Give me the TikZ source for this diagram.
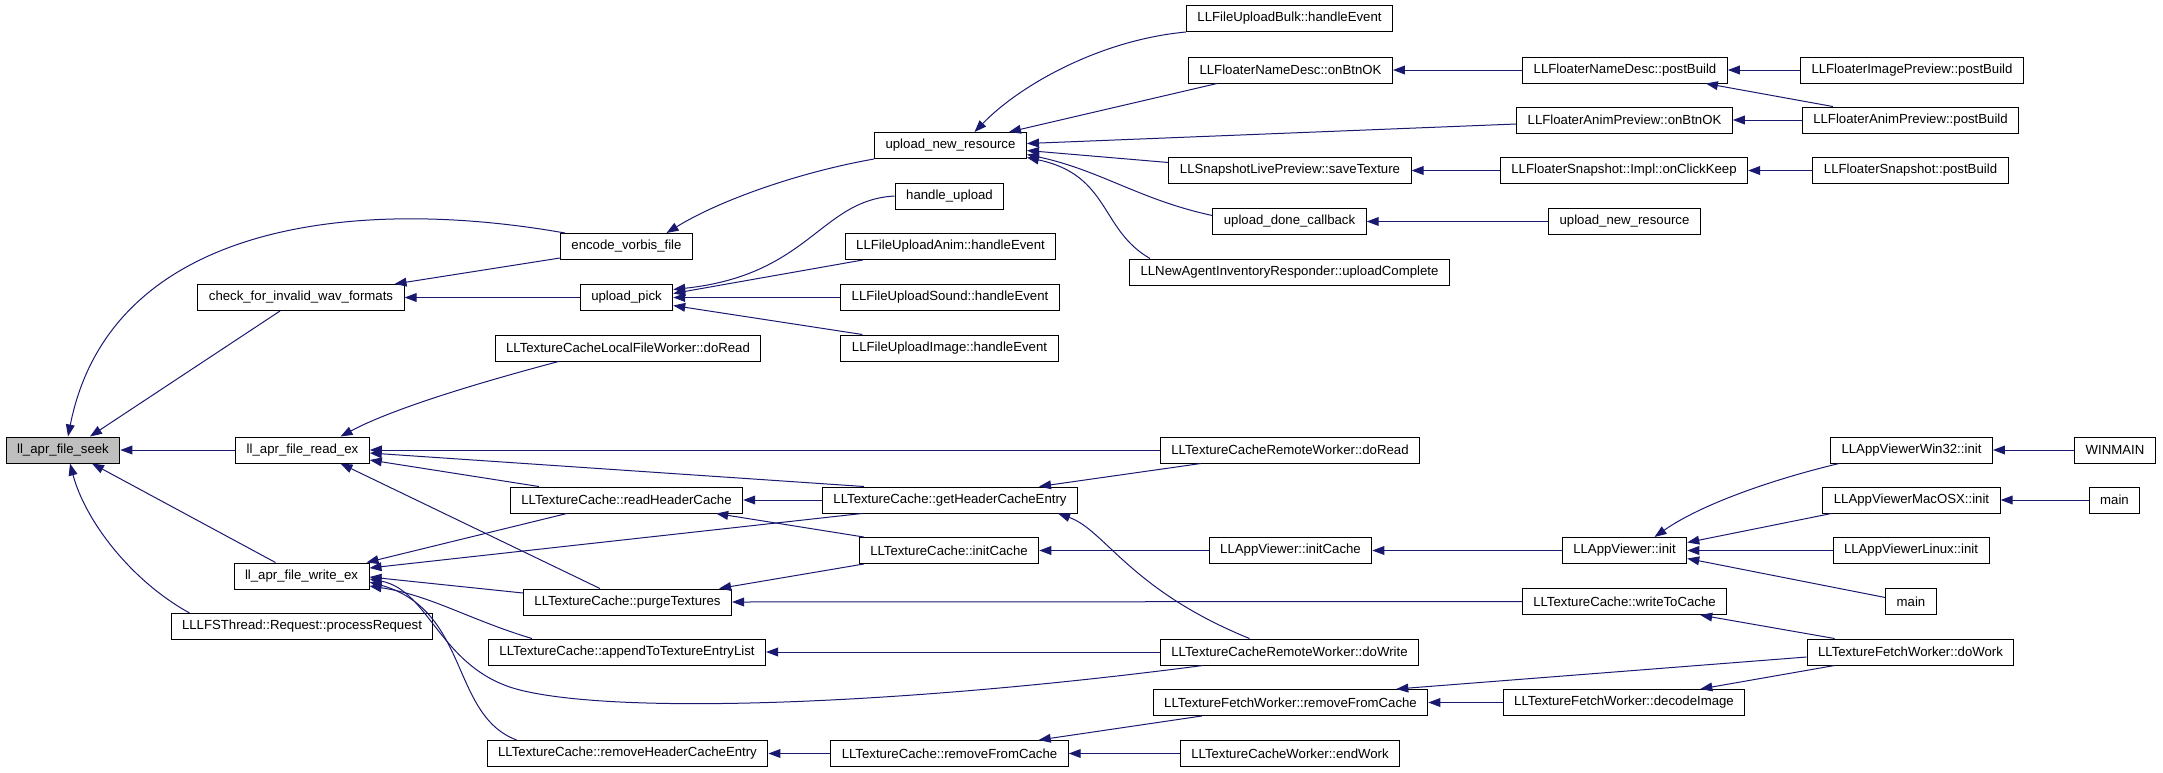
\documentclass[tikz,border=0pt]{standalone}
\usepackage{fontspec}
\setmainfont{Liberation Sans}
\usetikzlibrary{arrows.meta}
\definecolor{azulseta}{RGB}{25,25,112}

\begin{document}
\begin{tikzpicture}[x=0.5pt, y=-0.5pt,
    caixa/.style={draw, line width=0.5pt, inner xsep=5.5pt, inner ysep=0pt,
        minimum height=13pt, font=\fontsize{6.6}{8}\selectfont},
    chama/.style={draw=azulseta, line width=0.5pt,
        -{Triangle[length=6pt, width=4.4pt]}}]

    \useasboundingbox (0,0) rectangle (2163,772);

    % Coluna 1 e 2
    \node (seek) at (63,450) [caixa, fill=gray!50] {ll\_apr\_file\_seek};
    \node (check) at (301,297.5) [caixa] {check\_for\_invalid\_wav\_formats};
    \node (read) at (302.5,450) [caixa] {ll\_apr\_file\_read\_ex};
    \node (write) at (301.5,576) [caixa] {ll\_apr\_file\_write\_ex};
    \node (process) at (302,626.5) [caixa] {LLLFSThread::Request::processRequest};

    % Coluna 3
    \node (encode) at (626.5,246.5) [caixa] {encode\_vorbis\_file};
    \node (upick) at (626.5,297.5) [caixa] {upload\_pick};
    \node (localread) at (628,348) [caixa] {LLTextureCacheLocalFileWorker::doRead};
    \node (readhc) at (626.5,500) [caixa] {LLTextureCache::readHeaderCache};
    \node (purge) at (627.5,602) [caixa] {LLTextureCache::purgeTextures};
    \node (append) at (627,652) [caixa] {LLTextureCache::appendToTextureEntryList};
    \node (removehce) at (627.5,753.5) [caixa] {LLTextureCache::removeHeaderCacheEntry};

    % Coluna 4
    \node (unr) at (950.5,145.5) [caixa] {upload\_new\_resource};
    \node (handle) at (949.5,196) [caixa] {handle\_upload};
    \node (anim) at (950.5,246.5) [caixa] {LLFileUploadAnim::handleEvent};
    \node (sound) at (950,297.5) [caixa] {LLFileUploadSound::handleEvent};
    \node (image) at (949.5,348) [caixa] {LLFileUploadImage::handleEvent};
    \node (gethce) at (950,500) [caixa] {LLTextureCache::getHeaderCacheEntry};
    \node (initcache) at (949,550.5) [caixa] {LLTextureCache::initCache};
    \node (tcremove) at (949.5,753.5) [caixa] {LLTextureCache::removeFromCache};

    % Coluna 5
    \node (bulk) at (1289.5,18.5) [caixa] {LLFileUploadBulk::handleEvent};
    \node (namedescok) at (1290.5,70) [caixa] {LLFloaterNameDesc::onBtnOK};
    \node (savetex) at (1290,170.5) [caixa] {LLSnapshotLivePreview::saveTexture};
    \node (donecb) at (1289.5,221.5) [caixa] {upload\_done\_callback};
    \node (newagent) at (1289.5,272) [caixa] {LLNewAgentInventoryResponder::uploadComplete};
    \node (remoteread) at (1290,450) [caixa] {LLTextureCacheRemoteWorker::doRead};
    \node (appinitcache) at (1290.5,550.5) [caixa] {LLAppViewer::initCache};
    \node (remotewrite) at (1289.5,652) [caixa] {LLTextureCacheRemoteWorker::doWrite};
    \node (fetchremove) at (1290.5,702.5) [caixa] {LLTextureFetchWorker::removeFromCache};
    \node (endwork) at (1290,753.5) [caixa] {LLTextureCacheWorker::endWork};

    % Coluna 6
    \node (namedescpb) at (1625,70) [caixa] {LLFloaterNameDesc::postBuild};
    \node (animok) at (1624.5,120) [caixa] {LLFloaterAnimPreview::onBtnOK};
    \node (clickkeep) at (1624,170.5) [caixa] {LLFloaterSnapshot::Impl::onClickKeep};
    \node (unr2) at (1624.5,221.5) [caixa] {upload\_new\_resource};
    \node (appinit) at (1624.5,550.5) [caixa] {LLAppViewer::init};
    \node (writecache) at (1624.5,601.5) [caixa] {LLTextureCache::writeToCache};
    \node (decode) at (1624,702.5) [caixa] {LLTextureFetchWorker::decodeImage};

    % Colunas 7 e 8
    \node (imagepb) at (1912,70) [caixa] {LLFloaterImagePreview::postBuild};
    \node (animpb) at (1910.5,120) [caixa] {LLFloaterAnimPreview::postBuild};
    \node (snappb) at (1910.5,170.5) [caixa] {LLFloaterSnapshot::postBuild};
    \node (win32) at (1911.5,450) [caixa] {LLAppViewerWin32::init};
    \node (mac) at (1911.5,500) [caixa] {LLAppViewerMacOSX::init};
    \node (linux) at (1911,550.5) [caixa] {LLAppViewerLinux::init};
    \node (main2) at (1911,601.5) [caixa] {main};
    \node (dowork) at (1910.5,652) [caixa] {LLTextureFetchWorker::doWork};
    \node (winmain) at (2115,450) [caixa] {WINMAIN};
    \node (main1) at (2114.5,500) [caixa] {main};

    % Chamadas para ll_apr_file_seek
    \draw[chama] ([xshift=2.5pt]encode.north west) .. controls (350,195) and (110,225) .. ([xshift=2.5pt]seek.north);
    \draw[chama] ([xshift=-10.5pt]check.south) -- ([xshift=13.5pt]seek.north);
    \draw[chama] (read.west) -- (seek.east);
    \draw[chama] ([xshift=-13pt]write.north) -- ([xshift=14.5pt]seek.south);
    \draw[chama] ([xshift=9.5pt]process.north west) .. controls (130,580) and (85,520) .. ([xshift=3.5pt]seek.south);

    % check_for_invalid_wav_formats e encode_vorbis_file
    \draw[chama] ([yshift=1pt]encode.south west) -- ([xshift=-5pt]check.north east);
    \draw[chama] (upick.west) -- (check.east);
    \draw[chama] (unr.south west) .. controls (800,172) and (720,200) .. ([xshift=20pt]encode.north);

    % upload_pick
    \draw[chama] (handle.west) .. controls (820,200) and (810,275) .. ([yshift=4pt]upick.east);
    \draw[chama] ([xshift=9pt]anim.south west) -- ([yshift=2pt]upick.east);
    \draw[chama] (sound.west) -- (upick.east);
    \draw[chama] ([xshift=11pt]image.north west) -- ([yshift=-4pt]upick.east);

    % ll_apr_file_read_ex
    \draw[chama] ([xshift=32pt]localread.south west) .. controls (470,385) and (390,410) .. ([xshift=19pt]read.north);
    \draw[chama] (remoteread.west) -- (read.east);
    \draw[chama] ([xshift=21pt]gethce.north west) -- ([yshift=-1.5pt]read.east);
    \draw[chama] ([xshift=14.5pt]readhc.north west) -- ([yshift=-5pt]read.east);
    \draw[chama] ([xshift=38.5pt]purge.north west) -- ([xshift=19pt]read.south);

    % ll_apr_file_write_ex
    \draw[chama] ([xshift=28.5pt]readhc.south west) -- ([xshift=-1.5pt]write.north east);
    \draw[chama] ([xshift=20pt]gethce.south west) -- ([yshift=4pt]write.east);
    \draw[chama] ([yshift=4.5pt]purge.west) -- ([yshift=-0.5pt]write.east);
    \draw[chama] ([xshift=22pt]append.north west) .. controls (470,620) and (430,595) .. ([yshift=-5pt]write.east);
    \draw[chama] ([xshift=21.5pt]remotewrite.south west) .. controls (900,705) and (620,715) .. (520,690)
        .. controls (440,670) and (430,590) .. ([yshift=-1.5pt]write.east);
    \draw[chama] ([xshift=15pt]removehce.north west) .. controls (450,715) and (470,610) .. ([yshift=-3pt]write.east);

    % readHeaderCache, purgeTextures, getHeaderCacheEntry
    \draw[chama] (gethce.west) -- (readhc.east);
    \draw[chama] ([xshift=2.5pt]initcache.north west) -- ([xshift=-13.5pt]readhc.south east);
    \draw[chama] ([xshift=2.5pt]initcache.south west) -- ([xshift=-6.5pt]purge.north east);
    \draw[chama] (writecache.west) -- (purge.east);
    \draw[chama] ([xshift=20.5pt]remoteread.south west) -- ([xshift=-19.5pt]gethce.north east);
    \draw[chama] ([xshift=-20pt]remotewrite.north) .. controls (1130,590) and (1105,530) .. ([xshift=-10pt]gethce.south east);

    % upload_new_resource
    \draw[chama] (bulk.south west) .. controls (1100,40) and (1020,85) .. ([xshift=12pt]unr.north);
    \draw[chama] ([xshift=14.5pt]namedescok.south west) -- ([xshift=-9pt]unr.north east);
    \draw[chama] ([yshift=-2pt]animok.west) -- ([yshift=1pt]unr.east);
    \draw[chama] ([yshift=4pt]savetex.west) -- ([yshift=-2.5pt]unr.east);
    \draw[chama] ([yshift=3pt]donecb.west) .. controls (1140,200) and (1100,170) .. ([yshift=-4.5pt]unr.east);
    \draw[chama] ([xshift=10.5pt]newagent.north west) .. controls (1100,230) and (1110,175) .. ([yshift=-6pt]unr.east);

    % Floaters
    \draw[chama] (namedescpb.west) -- (namedescok.east);
    \draw[chama] (imagepb.west) -- (namedescpb.east);
    \draw[chama] ([xshift=15.5pt]animpb.north west) -- ([xshift=-11pt]namedescpb.south east);
    \draw[chama] (animpb.west) -- (animok.east);
    \draw[chama] (snappb.west) -- (clickkeep.east);
    \draw[chama] (clickkeep.west) -- (savetex.east);
    \draw[chama] (unr2.west) -- (donecb.east);

    % LLAppViewer
    \draw[chama] ([xshift=4.5pt]win32.south west) .. controls (1770,480) and (1700,505) .. ([xshift=15pt]appinit.north);
    \draw[chama] ([xshift=4.5pt]mac.south west) -- ([yshift=4pt]appinit.east);
    \draw[chama] (linux.west) -- (appinit.east);
    \draw[chama] ([yshift=2pt]main2.west) -- ([yshift=-4pt]appinit.east);
    \draw[chama] (winmain.west) -- (win32.east);
    \draw[chama] (main1.west) -- (mac.east);
    \draw[chama] (appinit.west) -- (appinitcache.east);
    \draw[chama] (appinitcache.west) -- (initcache.east);

    % LLTextureFetchWorker
    \draw[chama] ([xshift=14pt]dowork.north west) -- ([xshift=-13.5pt]writecache.south east);
    \draw[chama] ([yshift=-2.5pt]dowork.west) -- ([xshift=-16pt]fetchremove.north east);
    \draw[chama] ([xshift=14pt]dowork.south west) -- ([xshift=-22.5pt]decode.north east);
    \draw[chama] (decode.west) -- (fetchremove.east);
    \draw[chama] ([xshift=24.5pt]fetchremove.south west) -- ([xshift=-15pt]tcremove.north east);
    \draw[chama] (endwork.west) -- (tcremove.east);
    \draw[chama] (tcremove.west) -- (removehce.east);
    \draw[chama] (remotewrite.west) -- (append.east);
\end{tikzpicture}
\end{document}
